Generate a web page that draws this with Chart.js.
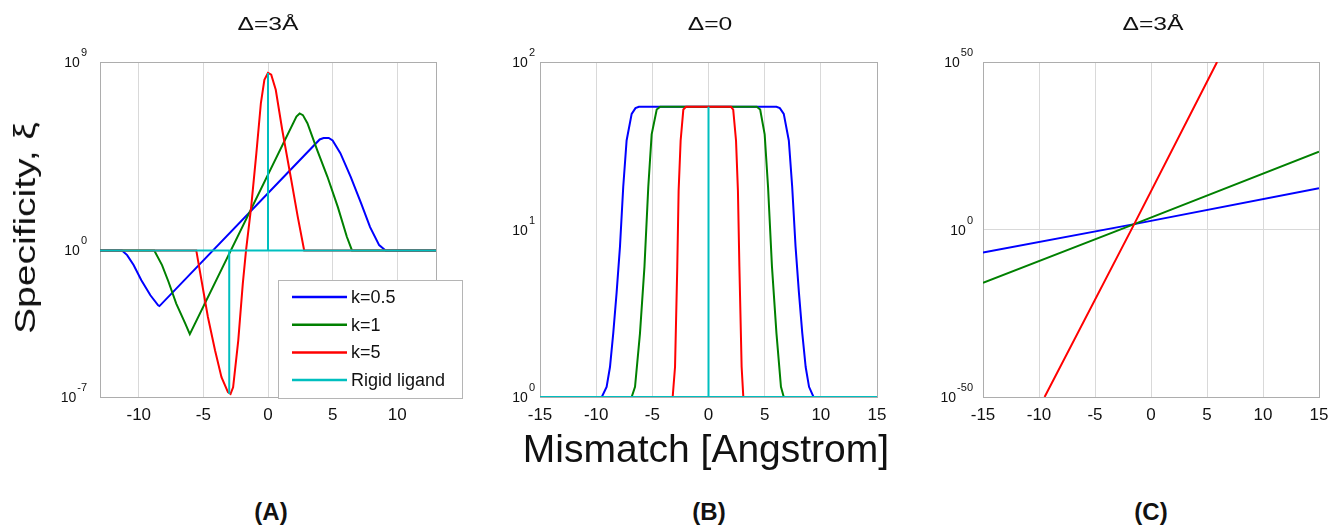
<!DOCTYPE html>
<html>
<head>
<meta charset="utf-8">
<script src="https://cdn.jsdelivr.net/npm/chart.js@4.4.1/dist/chart.umd.min.js"></script>
<style>
  body { margin: 0; background: #fff; width: 1341px; height: 532px; overflow: hidden; position: relative;
         font-family: 'Liberation Sans', Arial, sans-serif; }
  .box { position: absolute; top: 0; height: 440px; }
  .txt { position: absolute; line-height: 1; white-space: nowrap; color: #111; }
</style>
</head>
<body>
<div class="box" style="left:0;width:480px"><canvas id="chartA"></canvas></div>
<div class="box" style="left:460px;width:460px"><canvas id="chartB"></canvas></div>
<div class="box" style="left:900px;width:441px"><canvas id="chartC"></canvas></div>

<div class="txt" style="left:268px;top:23px;font-size:19px;transform:translate(-50%,-50%) scaleX(1.3)">Δ=3Å</div>
<div class="txt" style="left:710px;top:23px;font-size:19px;transform:translate(-50%,-50%) scaleX(1.3)">Δ=0</div>
<div class="txt" style="left:1153px;top:23px;font-size:19px;transform:translate(-50%,-50%) scaleX(1.3)">Δ=3Å</div>
<div class="txt" style="left:25px;top:228px;font-size:30px;transform:translate(-50%,-50%) rotate(-90deg) scaleX(1.3)">Specificity, ξ</div>
<div class="txt" style="left:706px;top:448px;font-size:39px;transform:translate(-50%,-50%)">Mismatch [Angstrom]</div>
<div class="txt" style="left:271px;top:512px;font-size:24px;font-weight:bold;transform:translate(-50%,-50%)">(A)</div>
<div class="txt" style="left:709px;top:512px;font-size:24px;font-weight:bold;transform:translate(-50%,-50%)">(B)</div>
<div class="txt" style="left:1151px;top:512px;font-size:24px;font-weight:bold;transform:translate(-50%,-50%)">(C)</div>

<script>
// series names (legend only shown on panel A)
const seriesLabels = ['k=0.5', 'k=1', 'k=5', 'Rigid ligand'];
const seriesColors = ['rgb(0, 0, 255)', 'rgb(0, 128, 0)', 'rgb(255, 0, 0)', 'rgb(0, 191, 191)'];

// tick values, y labels are 10^exp
const xTicksA = [-10, -5, 0, 5, 10];
const xTicksBC = [-15, -10, -5, 0, 5, 10, 15];
const yTicksA = [1e-7, 1, 1e9];
const yExpA = ['-7', '0', '9'];
const yTicksB = [1, 10, 100];
const yExpB = ['0', '1', '2'];
const yTicksC = [1e-50, 1, 1e50];
const yExpC = ['-50', '0', '50'];

// panel A : delta = 3 A
const aK05x = [-13, -11.3, -10.9, -10.4, -9.8, -9.1, -8.5, -8.4, 4.0, 4.3, 4.7, 5.0, 5.6, 6.4, 7.2, 7.9, 8.6, 9.1, 13];
const aK05y = [1, 1, 0.6, 0.2, 0.038, 7.2e-3, 2.4e-3, 2.2e-3, 2.0e5, 2.35e5, 2.35e5, 1.8e5, 4.4e4, 3.3e3, 180, 13, 1.8, 1, 1];
const aK1x = [-13, -8.8, -8.2, -7.7, -7.1, -6.4, -6.05, 2.2, 2.45, 2.7, 3.05, 3.8, 4.6, 5.4, 6.1, 6.5, 13];
const aK1y = [1, 1, 0.2, 0.032, 2.9e-3, 3.2e-4, 1.0e-4, 2.5e6, 3.5e6, 2.9e6, 1.2e6, 6.3e4, 3.3e3, 120, 4.5, 1, 1];
const aK5x = [-13, -5.55, -5.15, -4.65, -4.1, -3.6, -3.1, -2.9, -2.7, -2.3, -1.95, -1.7, -1.3, -0.9, -0.55, -0.28, 0, 0.25, 0.6, 1.1, 1.8, 2.3, 2.8, 13];
const aK5y = [1, 1, 0.038, 6.6e-4, 1.7e-5, 8.9e-7, 1.7e-7, 1.4e-7, 2.9e-7, 5.1e-5, 0.026, 1, 123, 4.4e4, 1.1e7, 1.4e8, 3.0e8, 2.5e8, 4.7e7, 5.8e5, 2.3e3, 41, 1, 1];
const aRigidX = [-13, -3, -3, -3, 0, 0, 0, 13];
const aRigidY = [1, 1, 1.4e-7, 1, 1, 3.0e8, 1, 1];

// panel B : delta = 0
const bK05x = [-15, -9.5, -9.07, -8.77, -8.48, -8.18, -7.88, -7.59, -7.29, -6.84, -6.5, -6.2, 6.05, 6.35, 6.7, 7.15, 7.45, 7.75, 8.05, 8.35, 8.65, 8.95, 9.35, 15];
const bK05y = [1, 1, 1.15, 1.51, 2.4, 4.2, 7.9, 18, 34, 49, 53, 54, 54, 53, 49, 34, 18, 7.9, 4.2, 2.4, 1.51, 1.15, 1, 1];
const bK1x = [-15, -6.84, -6.54, -6.1, -5.7, -5.36, -5.06, -4.61, -4.3, 4.3, 4.6, 5.0, 5.3, 5.65, 6.05, 6.45, 6.7, 15];
const bK1y = [1, 1, 1.15, 2.4, 6.0, 18, 37, 52, 54, 54, 52, 37, 18, 6.0, 2.4, 1.15, 1, 1];
const bK5x = [-15, -3.19, -2.98, -2.78, -2.66, -2.48, -2.24, -2.0, 2.0, 2.2, 2.45, 2.62, 2.75, 2.95, 3.1, 15];
const bK5y = [1, 1, 1.51, 6.0, 17, 34, 52, 54, 54, 52, 34, 17, 6.0, 1.51, 1, 1];
const bRigidX = [-15, 0, 0, 0, 15];
const bRigidY = [1, 1, 54, 1, 1];

// panel C : delta = 3 A, wide range
const cK05x = [-15, -1.5, 15];
const cK05y = [1.3e-7, 40, 2e12];
const cK1x = [-15, -1.5, 15];
const cK1y = [1.3e-16, 40, 1.6e23];
const cK5x = [-9.5, -1.5, 5.9];
const cK5y = [1e-50, 40, 1e50];

const FONT = "'Liberation Sans', Arial, sans-serif";

function pts(xs, ys) {
  return xs.map((x, i) => ({ x: x, y: ys[i] }));
}

// grey box round the plot area
const framePlugin = {
  id: 'frame',
  beforeDatasetsDraw(chart) {
    const a = chart.chartArea;
    const ctx = chart.ctx;
    ctx.save();
    ctx.strokeStyle = '#adadad';
    ctx.lineWidth = 1;
    ctx.strokeRect(Math.round(a.left) + 0.5, Math.round(a.top) + 0.5,
      Math.round(a.right - a.left), Math.round(a.bottom - a.top));
    ctx.restore();
  },
};

// y labels as 10 with a raised exponent
const expLabelPlugin = {
  id: 'expLabels',
  afterDraw(chart) {
    const s = chart.scales.y;
    const o = chart.options.expLabels;
    const ctx = chart.ctx;
    ctx.save();
    ctx.fillStyle = '#111';
    ctx.textAlign = 'left';
    ctx.textBaseline = 'alphabetic';
    s.ticks.forEach((t, i) => {
      const y = s.getPixelForValue(t.value);
      const exp = o.exps[i];
      ctx.font = '11px ' + FONT;
      const ew = ctx.measureText(exp).width;
      const xr = chart.chartArea.left - o.pad;
      ctx.fillText(exp, xr - ew, y - 6);
      ctx.font = '14px ' + FONT;
      const bw = ctx.measureText('10').width;
      ctx.fillText('10', xr - ew - bw - 1, y + 5);
    });
    ctx.restore();
  },
};

// matlab style legend box, lower right of panel A
const legendBoxPlugin = {
  id: 'legendBox',
  afterDraw(chart) {
    const a = chart.chartArea;
    const ctx = chart.ctx;
    const x0 = Math.round(a.left) + 178;
    const y0 = Math.round(a.top) + 218;
    ctx.save();
    ctx.fillStyle = '#fff';
    ctx.fillRect(x0, y0, 184, 118);
    ctx.strokeStyle = '#b5b5b5';
    ctx.lineWidth = 1;
    ctx.strokeRect(x0 + 0.5, y0 + 0.5, 184, 118);
    ctx.font = '18px ' + FONT;
    ctx.textBaseline = 'middle';
    chart.data.datasets.forEach((ds, i) => {
      const y = y0 + 17 + i * 27.7;
      ctx.strokeStyle = ds.borderColor;
      ctx.lineWidth = 2.5;
      ctx.beginPath();
      ctx.moveTo(x0 + 14, y);
      ctx.lineTo(x0 + 69, y);
      ctx.stroke();
      ctx.fillStyle = '#111';
      ctx.fillText(ds.label, x0 + 73, y + 1);
    });
    ctx.restore();
  },
};

function makePanel(id, xs, ys, o) {
  const datasets = xs.map((x, i) => ({
    label: seriesLabels[i],
    data: pts(x, ys[i]),
    borderColor: seriesColors[i],
    borderWidth: 2,
    pointRadius: 0,
    tension: 0,
    fill: false,
    order: 4 - i, // later series on top, like matlab
  }));

  const plugins = [framePlugin, expLabelPlugin];
  if (o.legend) plugins.push(legendBoxPlugin);

  return new Chart(document.getElementById(id).getContext('2d'), {
    type: 'line',
    data: { datasets: datasets },
    options: {
      responsive: true,
      maintainAspectRatio: false,
      animation: false,
      events: [],
      expLabels: { exps: o.yExp, pad: o.yPad },
      layout: { padding: { left: 0, top: 62, right: o.padRight, bottom: 13 } },
      plugins: { legend: { display: false }, tooltip: { enabled: false } },
      scales: {
        x: {
          type: 'linear',
          min: o.xMin,
          max: o.xMax,
          afterBuildTicks: (s) => { s.ticks = o.xTicks.map((v) => ({ value: v })); },
          afterFit: (s) => { s.height = 30; },
          border: { display: false },
          grid: { color: '#d9d9d9', drawTicks: false },
          ticks: {
            padding: 8,
            color: '#111',
            autoSkip: false,
            maxRotation: 0,
            font: { family: FONT, size: 17 },
            callback: (v) => String(v),
          },
        },
        y: {
          type: 'logarithmic',
          min: o.yTicks[0],
          max: o.yTicks[o.yTicks.length - 1],
          afterBuildTicks: (s) => { s.ticks = o.yTicks.map((v) => ({ value: v })); },
          afterFit: (s) => { s.width = o.yWidth; },
          border: { display: false },
          grid: { display: o.yGrid, color: '#d9d9d9', drawTicks: false },
          ticks: { display: false },
        },
      },
    },
    plugins: plugins,
  });
}

makePanel('chartA',
  [aK05x, aK1x, aK5x, aRigidX],
  [aK05y, aK1y, aK5y, aRigidY],
  { xMin: -13, xMax: 13, xTicks: xTicksA, yTicks: yTicksA, yExp: yExpA,
    yWidth: 100, yPad: 13, padRight: 44, yGrid: true, legend: true });

makePanel('chartB',
  [bK05x, bK1x, bK5x, bRigidX],
  [bK05y, bK1y, bK5y, bRigidY],
  { xMin: -15, xMax: 15, xTicks: xTicksBC, yTicks: yTicksB, yExp: yExpB,
    yWidth: 80, yPad: 5, padRight: 43, yGrid: false, legend: false });

makePanel('chartC',
  [cK05x, cK1x, cK5x],
  [cK05y, cK1y, cK5y],
  { xMin: -15, xMax: 15, xTicks: xTicksBC, yTicks: yTicksC, yExp: yExpC,
    yWidth: 83, yPad: 10, padRight: 22, yGrid: true, legend: false });
</script>
</body>
</html>
